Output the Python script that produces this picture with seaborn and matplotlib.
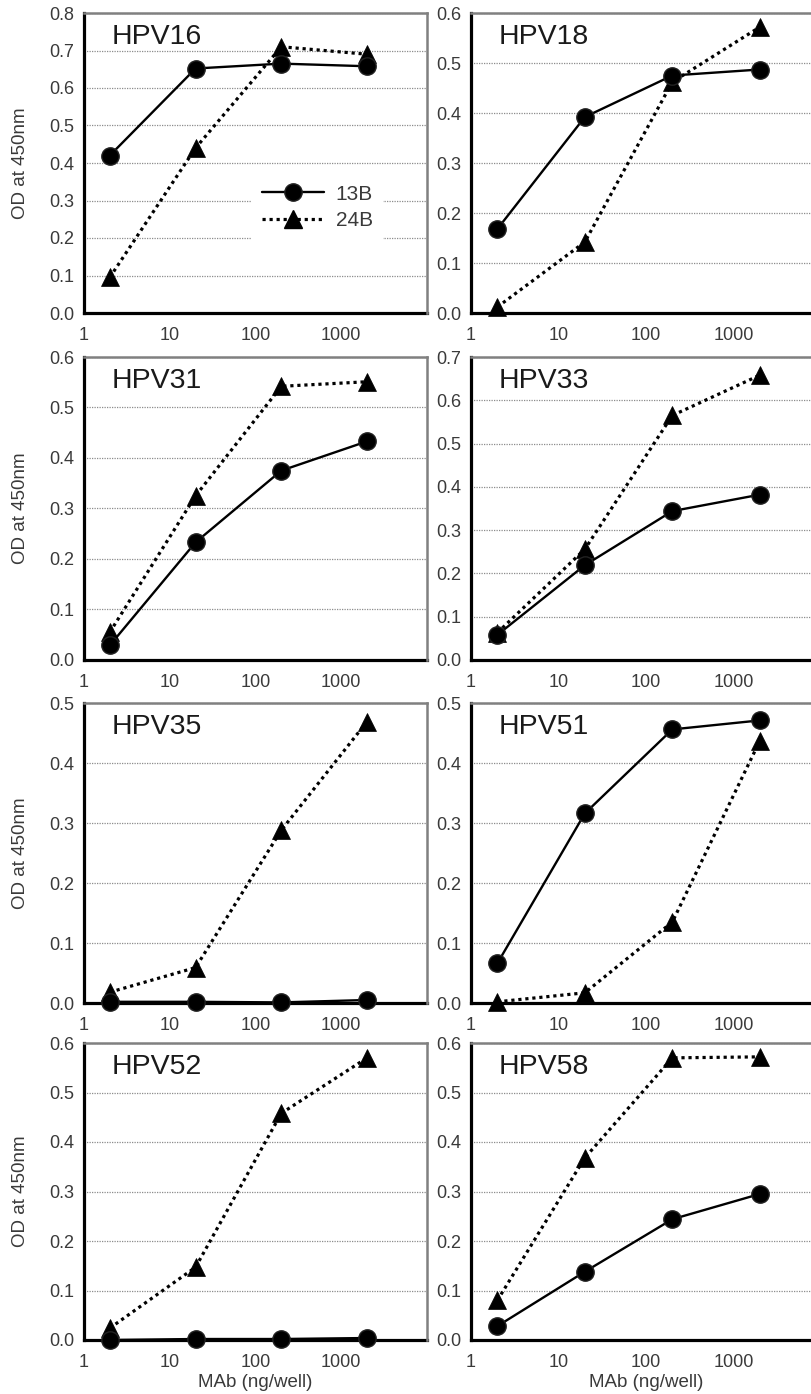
import matplotlib
matplotlib.use('Agg')
import matplotlib.pyplot as plt
import seaborn as sns
from matplotlib.ticker import FixedLocator, FixedFormatter, NullLocator, MultipleLocator, FormatStrFormatter
from matplotlib.lines import Line2D

sns.set_style('white')
plt.rcParams['font.family'] = ['Liberation Sans', 'DejaVu Sans']

# ---- data ----
doses = [2, 20, 200, 2000]                      # MAb (ng/well)
panel_names = ['HPV16', 'HPV18', 'HPV31', 'HPV33',
               'HPV35', 'HPV51', 'HPV52', 'HPV58']
y_max = [0.8, 0.6, 0.6, 0.7, 0.5, 0.5, 0.6, 0.6]
x_ticks = [1, 10, 100, 1000]
x_tick_labels = ['1', '10', '100', '1000']

hpv16_13b = [0.42, 0.652, 0.665, 0.658]
hpv16_24b = [0.095, 0.44, 0.71, 0.69]
hpv18_13b = [0.168, 0.392, 0.475, 0.487]
hpv18_24b = [0.012, 0.142, 0.462, 0.572]
hpv31_13b = [0.029, 0.233, 0.375, 0.433]
hpv31_24b = [0.055, 0.325, 0.542, 0.551]
hpv33_13b = [0.058, 0.219, 0.344, 0.382]
hpv33_24b = [0.063, 0.256, 0.565, 0.658]
hpv35_13b = [0.002, 0.002, 0.001, 0.005]
hpv35_24b = [0.018, 0.059, 0.288, 0.469]
hpv51_13b = [0.066, 0.316, 0.456, 0.471]
hpv51_24b = [0.002, 0.017, 0.135, 0.437]
hpv52_13b = [0.0, 0.002, 0.002, 0.004]
hpv52_24b = [0.024, 0.147, 0.458, 0.570]
hpv58_13b = [0.028, 0.138, 0.244, 0.295]
hpv58_24b = [0.080, 0.368, 0.570, 0.572]

series_13b = [hpv16_13b, hpv18_13b, hpv31_13b, hpv33_13b,
              hpv35_13b, hpv51_13b, hpv52_13b, hpv58_13b]
series_24b = [hpv16_24b, hpv18_24b, hpv31_24b, hpv33_24b,
              hpv35_24b, hpv51_24b, hpv52_24b, hpv58_24b]

# ---- layout (pixels) ----
W, H = 812, 1394
rows_top = [13, 357, 703, 1043]
rows_bot = [313, 660, 1003, 1340]
col_left = [84, 471]
col_w = [343, 350]

fig = plt.figure(figsize=(W / 100, H / 100), dpi=100)

dot_style = (0, (1, 1.2))

for i, name in enumerate(panel_names):
    r, c = divmod(i, 2)
    left = col_left[c] / W
    bottom = 1 - rows_bot[r] / H
    width = col_w[c] / W
    height = (rows_bot[r] - rows_top[r]) / H
    ax = fig.add_axes([left, bottom, width, height])
    ax.set_xscale('log')
    ax.set_xlim(1, 10000)
    ax.set_ylim(0, y_max[i])

    sns.lineplot(x=doses, y=series_13b[i], ax=ax, color='black',
                 marker='o', markersize=12.5, markeredgecolor='#222222',
                 markeredgewidth=1.0, linewidth=1.7, linestyle='-',
                 clip_on=False, legend=False, zorder=4, label='13B')
    sns.lineplot(x=doses, y=series_24b[i], ax=ax, color='black',
                 marker='^', markersize=13, markeredgecolor='black',
                 markeredgewidth=0.5, linewidth=2.3, linestyle=dot_style,
                 clip_on=False, legend=False, zorder=3, label='24B')

    # axes styling
    for side in ['left', 'bottom']:
        ax.spines[side].set_color('black')
        ax.spines[side].set_linewidth(2.3)
        ax.spines[side].set_zorder(2)
    for side in ['top', 'right']:
        ax.spines[side].set_color('#808080')
        ax.spines[side].set_linewidth(1.8)

    ax.xaxis.set_major_locator(FixedLocator(x_ticks))
    ax.xaxis.set_major_formatter(FixedFormatter(x_tick_labels))
    ax.xaxis.set_minor_locator(NullLocator())
    ax.yaxis.set_major_locator(MultipleLocator(0.1))
    ax.yaxis.set_major_formatter(FormatStrFormatter('%.1f'))
    ax.tick_params(axis='x', direction='in', length=5, width=1.6,
                   color='black', pad=10, labelsize=13, labelcolor='#3a3a3a')
    ax.tick_params(axis='y', length=0, pad=7, labelsize=13,
                   labelcolor='#3a3a3a')

    ax.grid(axis='y', which='major', color='#8c8c8c', linewidth=0.9,
            linestyle=(0, (1, 1)))
    ax.grid(axis='x', visible=False)
    ax.set_axisbelow(True)

    ax.text(0.08, 0.92, name, transform=ax.transAxes, fontsize=20.5,
            color='#1a1a1a', ha='left', va='center')

    if c == 0:
        ax.set_ylabel('OD at 450nm', fontsize=13.5, color='#3a3a3a')
        ax.yaxis.label.set_va('center')
        ax.yaxis.set_label_coords(-0.184, 0.5)
    if r == 3:
        ax.set_xlabel('MAb (ng/well)', fontsize=13.5, color='#3a3a3a')
        ax.xaxis.set_label_coords(0.5, -0.113)

    if i == 0:
        handles = [
            Line2D([], [], color='black', marker='o', markersize=12.5,
                   markeredgecolor='#222222', linewidth=1.7, linestyle='-'),
            Line2D([], [], color='black', marker='^', markersize=13,
                   linewidth=2.3, linestyle=dot_style),
        ]
        leg = ax.legend(handles, ['13B', '24B'], loc='center',
                        bbox_to_anchor=(0.68, 0.352), fontsize=15,
                        handlelength=3.0, handletextpad=0.55,
                        borderpad=0.5, labelspacing=0.35, numpoints=1,
                        frameon=True, fancybox=False, framealpha=1,
                        facecolor='white', edgecolor='none')
        for t in leg.get_texts():
            t.set_color('#3a3a3a')

fig.savefig('out.png', dpi=100)
